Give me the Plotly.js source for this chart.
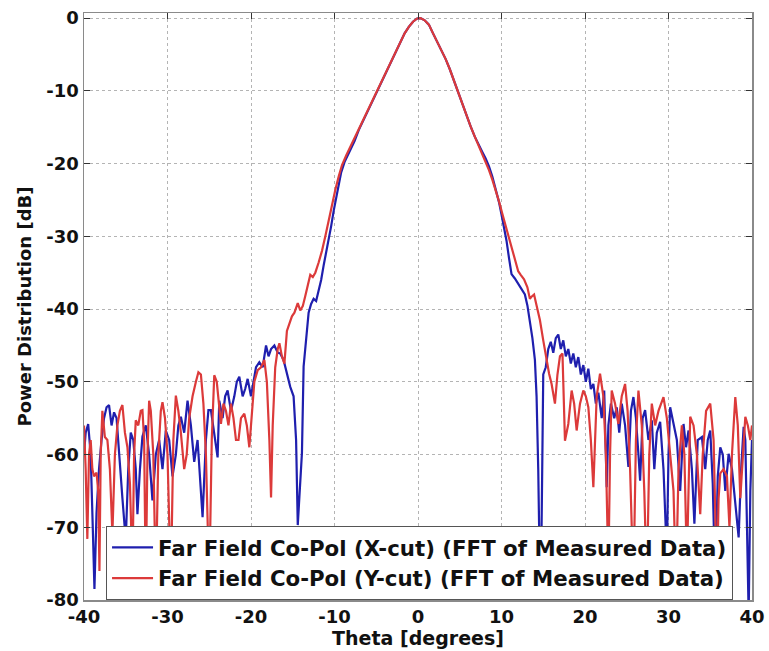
<!DOCTYPE html>
<html>
<head>
<meta charset="utf-8">
<script src="https://cdn.plot.ly/plotly-3.0.1.min.js"></script>
<style>html,body{margin:0;padding:0;background:#fff;}#chart{width:769px;height:651px;}</style>
</head>
<body>
<div id="chart"></div>
<script>
// ---- Data (theta in degrees, power in dB) ----
const thetaXLeft = [
-40.0,-39.8,-39.5,-39.2,-38.95,-38.75,-38.5,-38.2,-37.9,-37.6,
-37.3,-37.0,-36.7,-36.4,-36.1,-35.8,-35.4,-35.0,-34.7,-34.4,
-34.1,-33.8,-33.6,-33.3,-33.0,-32.6,-32.2,-31.8,-31.4,-31.0,
-30.6,-30.2,-29.8,-29.4,-29.0,-28.7,-28.4,-28.0,-27.6,-27.2,
-26.8,-26.4,-26.1,-25.8,-25.4,-25.1,-24.8,-24.4,-24.0,-23.8,
-23.4,-23.1,-22.8,-22.4,-22.0,-21.7,-21.4,-21.0,-20.7,-20.4,
-20.0,-19.7,-19.4,-19.0,-18.6,-18.2,-17.9,-17.6,-17.2,-16.8,
-16.5,-16.1,-15.7,-15.3,-14.9,-14.6,-14.4,-14.2,-14.0,-13.9,
-13.7,-13.5,-13.3,-13.1,-12.8,-12.5,-12.2,-11.9,-11.6,-11.3,
-11.0,-10.7,-10.4,-10.1,-9.8,-9.5,-9.2,-8.8,-8.4,-8.0,
-7.6];
const powerXLeft = [
-60,-57,-55.8,-60,-70,-78.5,-68,-62,-58,-55,
-53.5,-53.2,-56,-54.2,-55,-60,-66,-71.8,-62,-57,
-58,-62,-68.2,-62,-57.5,-56,-60,-66.3,-60,-58,
-62,-56.7,-58,-63,-60,-56,-54.8,-57,-52.6,-56,
-61,-58,-63,-68.6,-58,-53.9,-53.9,-57,-60.4,-52.6,
-55,-52,-51.2,-54,-52,-50,-49.3,-52,-51,-49.6,
-52,-50,-48,-47.3,-48,-45,-46.5,-45.5,-45,-46,
-46.1,-47,-49,-50.7,-52,-58,-69.7,-66,-62,-59.8,
-47.9,-45,-42.9,-40.5,-39.3,-38.6,-38.9,-37.5,-36,-34,
-32.3,-30.5,-28.6,-26.5,-24.6,-22.8,-21.2,-19.8,-18.8,-17.9,
-16.9];

const thetaMain = [
-7.1,-6.6,-6.1,-5.6,-5.1,-4.6,-4.1,-3.6,-3.1,-2.6,
-2.1,-1.6,-1.1,-0.6,-0.1,0.3,0.8,1.3,1.8,2.3,
2.8,3.3,3.8,4.3,4.8,5.3,5.8,6.3,6.8,7.3];
const powerMain = [
-15.4,-14.2,-13,-11.8,-10.6,-9.4,-8.1,-6.9,-5.6,-4.4,
-3.2,-2.1,-1.2,-0.5,-0.05,0,-0.3,-0.9,-2.1,-3.2,
-4.4,-5.6,-7.0,-8.6,-10.3,-11.9,-13.4,-14.9,-16.3,-17.6];

const thetaXRight = [
7.7,8.1,8.5,8.9,9.3,9.7,10.0,10.3,10.6,10.9,
11.2,11.6,12.0,12.4,12.8,13.1,13.4,13.7,14.0,14.2,
14.4,14.6,14.7,14.8,15.0,15.3,15.6,15.9,16.2,16.5,
16.8,17.1,17.4,17.7,18.0,18.3,18.6,18.9,19.2,19.5,
19.8,20.1,20.4,20.7,21.0,21.3,21.6,22.0,22.3,22.6,
22.8,23.1,23.5,23.8,24.1,24.4,24.8,25.2,25.5,25.8,
26.1,26.4,26.6,26.9,27.2,27.6,28.0,28.3,28.6,29.0,
29.4,29.8,30.0,30.2,30.6,31.0,31.4,31.8,32.1,32.4,
32.8,33.1,33.5,34.0,34.4,34.7,35.0,35.3,35.6,35.9,
36.2,36.5,36.8,37.2,37.6,38.0,38.4,38.7,39.0,39.2,
39.4,39.6,39.8,40.0];
const powerXRight = [
-18.4,-19.3,-20.4,-21.8,-23.4,-25.3,-27,-28.8,-30.6,-33,
-35.2,-35.8,-36.5,-37.2,-38,-39.5,-41.5,-44,-47,-52,
-62,-76,-85,-70,-49,-48,-45.5,-44.5,-46,-44,
-43.5,-45.5,-44.3,-46.5,-45.5,-47.5,-46.1,-48,-46.6,-49,
-47.7,-50,-48.2,-51,-50.3,-53,-51.5,-55,-51.2,-64.5,
-56,-53,-55,-53.5,-57,-53,-56,-61.7,-54,-52.1,
-55,-60,-63.6,-55,-53.9,-58,-55.3,-62,-57,-55.5,
-62,-74,-60,-53.5,-56,-58,-65,-55.8,-59,-56.7,
-62,-69.5,-58,-57.6,-62,-58,-56.7,-64,-78,-63,
-59,-60,-65,-59.9,-62,-67,-71.4,-62,-56.2,-58,
-70,-82,-65,-58];

const thetaYLeft = [
-40.0,-39.8,-39.6,-39.4,-39.2,-39.0,-38.8,-38.5,-38.3,-38.15,
-38.0,-37.8,-37.5,-37.2,-36.9,-36.6,-36.3,-36.0,-35.7,-35.4,
-35.1,-34.8,-34.5,-34.2,-34.0,-33.8,-33.5,-33.2,-33.0,-32.8,
-32.6,-32.4,-32.2,-32.0,-31.7,-31.4,-31.1,-30.8,-30.6,-30.3,
-30.0,-29.6,-29.3,-29.0,-28.7,-28.4,-28.0,-27.7,-27.4,-27.0,
-26.6,-26.3,-26.0,-25.7,-25.4,-25.0,-24.7,-24.4,-24.1,-23.8,
-23.6,-23.3,-23.0,-22.7,-22.4,-22.1,-21.8,-21.5,-21.2,-20.8,
-20.5,-20.2,-19.9,-19.6,-19.2,-18.8,-18.4,-18.1,-17.8,-17.6,
-17.4,-17.1,-16.8,-16.6,-16.3,-16.0,-15.7,-15.4,-15.1,-14.8,
-14.4,-14.1,-13.8,-13.5,-13.2,-12.9,-12.6,-12.3,-11.9,-11.5,
-11.1,-10.7,-10.3,-9.9,-9.5,-9.1,-8.6,-8.1,-7.6];
const powerYLeft = [
-56,-62,-71.6,-60,-58,-62,-63,-62.5,-65,-76,
-60,-54,-57.6,-58,-62,-70.9,-60,-56,-54,-53.2,
-57,-59,-64,-76,-60,-55.3,-56,-54,-53.9,-58,
-78,-60,-52.6,-54,-60,-78,-60,-54,-52.8,-55,
-60,-78,-58,-51.9,-54,-57,-62,-60,-55,-52,
-50,-48.7,-49,-53,-60,-78,-58,-49.1,-50,-53,
-55.8,-53,-54,-56,-53,-55,-58,-58,-55,-54.4,
-56,-59,-55,-50,-48.4,-48,-47,-50,-58,-65.9,
-56,-48,-45.5,-44.7,-46.5,-47.5,-43,-42,-41,-40.5,
-39.2,-40.2,-39.6,-38.2,-36.8,-35.3,-35.6,-35,-33.6,-32,
-30,-27.8,-25.6,-23.6,-21.8,-20.2,-18.9,-17.7,-16.6];

const thetaYRight = [
7.7,8.1,8.5,8.9,9.3,9.7,10.1,10.5,10.9,11.3,
11.7,12.0,12.3,12.7,13.1,13.4,13.6,13.9,14.2,14.6,
15.0,15.4,15.7,16.0,16.4,16.7,17.0,17.3,17.6,18.0,
18.4,18.7,19.0,19.4,19.8,20.1,20.4,20.7,21.0,21.4,
21.8,22.2,22.5,22.8,23.0,23.2,23.6,24.0,24.4,24.8,
25.1,25.4,25.8,26.1,26.4,26.8,27.1,27.4,27.7,28.0,
28.4,28.8,29.1,29.4,29.8,30.2,30.6,30.9,31.2,31.6,
31.9,32.2,32.4,32.6,33.0,33.4,33.8,34.1,34.5,35.0,
35.4,35.8,36.0,36.2,36.6,37.0,37.3,37.6,38.0,38.3,
38.6,38.8,39.2,39.5,39.8,40.0];
const powerYRight = [
-18.6,-19.7,-20.9,-22.2,-23.6,-25.2,-26.9,-28.6,-30.2,-32,
-33.8,-34.8,-35.3,-35.9,-37,-38.6,-38.3,-38,-39.5,-41.5,
-44.3,-47,-48.9,-50.3,-53,-49,-46.5,-46.1,-58.1,-55.8,
-51.2,-53,-56.7,-53,-51.2,-52,-53.5,-58,-64.5,-52,
-48.9,-52,-60,-76,-60,-51.2,-53,-55.8,-52,-50.3,
-54,-62,-78,-58,-51.2,-56,-65,-78,-60,-53,
-56,-54,-53,-52.1,-55,-60,-65,-78,-62,-56,
-60,-75,-62,-54.8,-56,-60,-68.2,-60,-54,-53,
-58,-78,-66,-62.6,-62,-63,-70,-60,-52.1,-56,
-66,-62,-54.8,-56,-58,-56];

const seriesNames = [
  'Far Field Co-Pol (X-cut) (FFT of Measured Data)',
  'Far Field Co-Pol (Y-cut) (FFT of Measured Data)'
];
const xTicks = [-40,-30,-20,-10,0,10,20,30,40];
const yTicks = [0,-10,-20,-30,-40,-50,-60,-70,-80];

// ---- Assemble series ----
const thetaX = thetaXLeft.concat(thetaMain, thetaXRight);
const powerX = powerXLeft.concat(powerMain, powerXRight);
const thetaY = thetaYLeft.concat(thetaMain, thetaYRight);
const powerY = powerYLeft.concat(powerMain, powerYRight);

const FONT = 'DejaVu Sans, Arial, sans-serif';

const traces = [
  {x: thetaX, y: powerX, type: 'scatter', mode: 'lines', name: seriesNames[0],
   line: {color: '#1f1fae', width: 2.2}},
  {x: thetaY, y: powerY, type: 'scatter', mode: 'lines', name: seriesNames[1],
   line: {color: '#dc3a3a', width: 2.2}}
];

const axisCommon = {
  showgrid: true, gridcolor: '#b4b4b4', griddash: 'dot', gridwidth: 1,
  zeroline: false, showline: true, linecolor: '#8a8a8a', linewidth: 1.5,
  mirror: 'ticks', ticks: 'inside', ticklen: 6, tickcolor: '#333', tickwidth: 1,
  tickfont: {family: FONT, size: 18, color: '#111', weight: 'bold'}
};

const layout = {
  width: 769, height: 651,
  margin: {l: 84, r: 17, t: 13, b: 51},
  paper_bgcolor: '#ffffff', plot_bgcolor: '#ffffff',
  font: {family: FONT, color: '#111'},
  showlegend: true,
  xaxis: Object.assign({}, axisCommon, {
    range: [-40, 40], tickvals: xTicks, ticktext: xTicks.map(String),
    title: {text: 'Theta [degrees]', font: {family: FONT, size: 19, color: '#111', weight: 'bold'}, standoff: 2}
  }),
  yaxis: Object.assign({}, axisCommon, {
    range: [-80, 0.7], tickvals: yTicks, ticktext: yTicks.map(String),
    title: {text: 'Power Distribution [dB]', font: {family: FONT, size: 18, color: '#111', weight: 'bold'}, standoff: 10}
  }),
  legend: {
    x: 0.033, y: 0, xanchor: 'left', yanchor: 'bottom',
    bgcolor: '#ffffff', bordercolor: '#555', borderwidth: 1,
    font: {family: FONT, size: 21.3, color: '#111', weight: 'bold'},
    itemwidth: 41, tracegroupgap: 0
  }
};

Plotly.newPlot('chart', traces, layout, {displayModeBar: false, staticPlot: true});
</script>
</body>
</html>
